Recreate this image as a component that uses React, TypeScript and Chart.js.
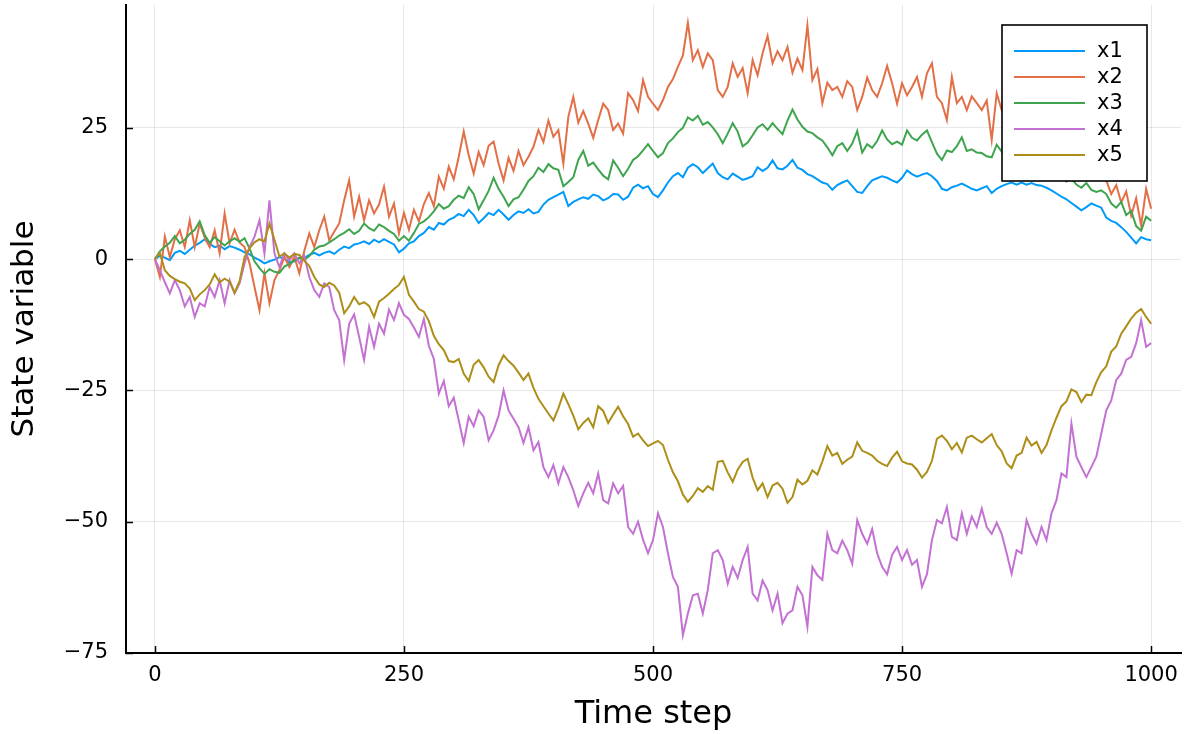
import React, { useEffect, useRef } from "react";
import { Chart, registerables } from "chart.js";

Chart.register(...registerables);

// Time step spacing between stored samples
const STEP = 5;

const SERIES_NAMES = ["x1", "x2", "x3", "x4", "x5"];
const SERIES_COLORS = ["#009AFA", "#E36F47", "#3EA44E", "#C371D2", "#AC8E18"];

const X_TICKS = [0, 250, 500, 750, 1000];
const Y_TICKS = [-75, -50, -25, 0, 25];

const X_TITLE = "Time step";
const Y_TITLE = "State variable";

// Samples every 5 time steps (0, 5, ..., 1000); each row = 50 steps
const X1 = [
  0, 0.6, 0.3, -0.2, 1.2, 1.6, 1.0, 1.8, 2.6, 3.1,
  3.8, 2.9, 2.3, 2.6, 1.9, 2.5, 2.2, 1.8, 1.3, 0.9,
  0.3, -0.2, -0.8, -0.4, -0.1, 0.4, 0.1, -0.6, -0.4, 0.3,
  0.2, 0.8, 1.2, 0.7, 1.2, 1.5, 1.0, 1.8, 2.4, 2.1,
  2.8, 3.0, 3.4, 2.9, 3.7, 3.2, 3.8, 3.3, 2.8, 1.3,
  2.0, 3.0, 3.4, 4.4, 5.0, 6.1, 5.6, 6.9, 6.6, 7.5,
  7.9, 8.6, 8.2, 9.4, 8.4, 6.9, 7.8, 8.8, 8.4, 9.4,
  8.5, 7.5, 8.4, 9.1, 8.8, 9.5, 8.7, 9.0, 10.4, 11.3,
  11.8, 12.3, 12.8, 10.1, 10.9, 11.4, 11.8, 11.5, 12.3, 12.0,
  11.2, 11.6, 12.4, 12.3, 11.3, 11.9, 13.6, 14.2, 13.5, 13.9,
  12.4, 11.8, 13.1, 14.6, 15.8, 16.4, 15.6, 17.4, 18.1, 17.5,
  16.4, 17.3, 18.2, 16.4, 15.6, 15.2, 16.3, 15.7, 15.1, 15.4,
  15.8, 17.5, 16.8, 17.4, 18.8, 17.3, 17.1, 17.8, 18.9, 17.4,
  17.0, 16.2, 15.8, 15.2, 14.6, 14.3, 13.2, 14.1, 14.6, 15.0,
  13.9, 12.8, 12.6, 13.9, 15.0, 15.4, 15.8, 15.5, 15.0, 14.6,
  15.5, 16.9, 16.2, 15.7, 16.1, 16.4, 15.8, 14.9, 13.4, 13.1,
  13.7, 14.0, 14.4, 13.9, 13.4, 13.1, 13.5, 13.9, 12.6, 13.4,
  13.9, 14.3, 14.6, 14.2, 14.6, 14.2, 14.5, 14.1, 14.0, 13.6,
  13.1, 12.5, 11.9, 11.4, 10.7, 10.0, 9.3, 9.9, 10.6, 10.2,
  9.8, 7.9, 7.3, 6.9, 6.1, 5.2, 4.1, 3.0, 4.2, 3.8,
  3.6,
];

const X2 = [
  0, -3.4, 4.3, 0.4, 3.8, 5.5, 2.3, 7.4, 2.3, 6.8,
  4.1, 2.3, 5.5, 1.1, 8.7, 3.0, 5.6, 3.2, 2.3, -0.8,
  -5.3, -9.7, -2.7, -8.4, -4.0, -2.1, 0.4, -1.5, 0.4, -2.7,
  1.6, 4.9, 2.3, 5.5, 8.1, 3.6, 5.2, 6.8, 11.2, 15.0,
  8.1, 11.9, 7.4, 11.2, 8.7, 10.4, 13.8, 8.1, 10.6, 4.9,
  8.8, 5.6, 9.4, 7.2, 10.5, 12.6, 10.1, 15.7, 13.4, 17.6,
  15.2, 19.5, 24.3, 19.8, 16.3, 20.4, 17.9, 21.6, 22.4, 18.2,
  15.0, 19.3, 16.8, 20.6, 17.9, 19.5, 21.4, 24.6, 22.3, 26.4,
  23.3, 24.6, 18.2, 27.1, 30.9, 26.0, 28.2, 25.8, 23.1, 26.5,
  29.6, 28.4, 24.6, 25.8, 23.9, 31.6, 30.3, 28.2, 34.1, 30.9,
  29.6, 28.4, 30.3, 32.8, 34.3, 36.6, 38.8, 45.0, 37.9, 39.8,
  36.6, 39.2, 37.9, 32.2, 30.9, 32.8, 37.3, 34.7, 36.4, 31.6,
  37.9, 35.0, 39.2, 42.5, 37.3, 39.6, 37.9, 40.4, 35.5, 38.2,
  36.0, 44.5, 34.1, 36.2, 29.7, 33.6, 32.2, 32.8, 30.9, 33.9,
  32.8, 28.4, 30.9, 34.6, 32.2, 30.9, 33.5, 36.8, 33.5, 29.6,
  33.5, 31.2, 32.8, 34.7, 30.9, 35.4, 37.3, 30.9, 29.7, 26.5,
  34.7, 29.7, 30.9, 28.4, 31.0, 29.7, 28.4, 30.2, 22.7, 31.6,
  28.4, 30.2, 27.1, 29.5, 26.2, 28.8, 27.0, 29.4, 26.3, 28.1,
  25.4, 27.6, 24.1, 25.9, 22.6, 24.0, 21.3, 22.8, 19.5, 20.6,
  17.8, 15.0, 12.4, 14.1, 10.8, 12.9, 8.3, 11.6, 6.4, 13.4,
  9.6,
];

const X3 = [
  0, 1.5, 2.4, 3.1, 4.4, 3.0, 3.7, 4.8, 5.6, 7.2,
  4.6, 3.1, 4.2, 3.4, 2.6, 3.4, 4.0, 3.3, 4.0, 2.0,
  -0.4, -1.7, -2.8, -1.9, -2.4, -2.6, -1.4, -0.9, -0.3, 0.2,
  -0.1, 0.6, 1.8, 2.4, 2.6, 3.2, 3.8, 4.5, 5.0, 5.7,
  4.8, 5.4, 6.8, 5.9, 5.4, 6.6, 6.1, 5.4, 4.8, 3.5,
  4.4, 3.5, 5.0, 6.7, 7.2, 8.0, 9.1, 10.5, 9.6, 10.1,
  11.3, 12.1, 11.6, 13.7, 12.4, 9.5, 11.2, 13.0, 15.5, 13.4,
  11.9, 10.1, 11.4, 11.8, 13.2, 14.9, 15.8, 17.4, 16.6, 18.1,
  17.3, 17.0, 13.9, 14.7, 15.6, 18.9, 20.6, 17.8, 18.4, 17.1,
  15.9, 15.2, 18.8, 17.4, 15.8, 17.2, 18.9, 19.6, 20.7, 21.9,
  20.6, 19.4, 20.2, 22.1, 23.0, 24.2, 25.0, 27.0, 26.4, 27.3,
  25.6, 26.1, 25.1, 23.8, 22.1, 23.9, 25.9, 24.3, 21.5, 22.2,
  23.6, 25.1, 25.7, 24.6, 25.9, 24.8, 23.8, 26.4, 28.5, 26.6,
  25.2, 24.3, 24.0, 23.2, 22.6, 21.3, 19.8, 21.5, 22.1, 20.6,
  22.0, 24.4, 20.3, 21.9, 21.2, 22.5, 24.5, 22.8, 21.9, 22.4,
  21.8, 24.5, 23.1, 22.6, 23.7, 24.5, 22.3, 20.1, 18.9, 20.7,
  20.4, 21.5, 23.2, 20.6, 20.9, 20.3, 20.2, 19.6, 19.4, 21.8,
  20.5, 19.6, 20.4, 19.3, 18.6, 19.4, 18.2, 17.6, 18.3, 17.1,
  16.4, 15.9, 15.5, 14.8, 15.4, 14.2, 13.6, 14.5, 13.2, 12.8,
  13.1, 12.4, 10.6, 9.8, 10.9, 8.4, 9.2, 6.3, 5.4, 8.1,
  7.3,
];

const X4 = [
  0, -2.1, -4.4, -6.5, -4.0, -5.9, -9.0, -7.2, -11.0, -8.4,
  -9.0, -5.3, -7.2, -4.0, -8.4, -4.0, -6.5, -4.6, -0.8, 2.3,
  4.3, 7.4, 1.1, 11.2, 1.1, -1.5, 1.1, -0.2, 1.1, -0.8,
  0.6, -3.4, -5.9, -7.2, -4.6, -5.3, -9.7, -11.6, -19.2, -12.3,
  -10.5, -14.8, -19.2, -12.9, -16.7, -12.3, -14.2, -9.6, -11.6, -8.4,
  -10.6, -11.4, -13.0, -14.8, -11.4, -16.5, -19.0, -25.6, -23.2, -28.0,
  -26.4, -30.7, -35.0, -30.0, -31.8, -28.8, -30.0, -34.5, -32.6, -29.8,
  -25.0, -28.8, -30.4, -32.0, -35.0, -32.0, -36.4, -34.8, -39.6, -41.5,
  -39.2, -42.7, -39.6, -41.5, -44.0, -47.0, -44.6, -42.6, -44.6, -40.8,
  -45.9, -46.5, -42.7, -44.6, -43.2, -51.0, -52.3, -50.0, -53.4, -56.0,
  -53.5, -48.4, -51.0, -56.0, -60.5, -62.4, -71.6, -67.5, -64.0, -63.7,
  -67.5, -63.0, -56.0, -55.4, -57.3, -61.8, -58.6, -60.7, -57.3, -54.8,
  -63.7, -65.0, -61.2, -63.0, -66.9, -63.7, -69.3, -67.5, -66.9, -62.4,
  -64.0, -70.0, -58.6, -60.2, -61.1, -52.3, -55.4, -56.0, -53.6, -55.4,
  -58.0, -49.7, -52.3, -54.2, -51.4, -56.0, -58.6, -60.0, -56.3, -54.8,
  -57.3, -55.4, -58.2, -57.3, -62.4, -60.0, -53.5, -49.7, -50.3, -47.2,
  -52.9, -53.5, -48.4, -52.3, -49.0, -51.0, -47.5, -51.0, -52.3, -50.2,
  -52.3, -56.0, -59.9, -55.4, -56.0, -49.7, -52.3, -54.2, -51.0, -53.5,
  -48.4, -45.9, -40.8, -41.5, -31.3, -37.6, -39.6, -41.5, -39.6, -37.6,
  -33.2, -28.8, -26.9, -23.0, -21.8, -19.2, -18.6, -16.0, -11.6, -16.7,
  -16.0,
];

const X5 = [
  0, 1.2, -2.1, -3.2, -3.8, -4.3, -4.6, -5.6, -7.8, -6.7,
  -5.9, -4.8, -2.9, -4.4, -3.7, -4.3, -6.4, -4.2, 0.4, 2.1,
  3.2, 3.8, 3.4, 6.8, 3.7, 0.5, 1.1, 0.3, 1.0, 0.8,
  -0.3, -1.3, -3.4, -4.8, -5.3, -4.5, -5.0, -6.4, -10.3, -9.0,
  -7.2, -8.6, -8.2, -8.9, -11.0, -8.1, -7.4, -6.6, -5.7, -4.9,
  -3.4, -6.8, -8.1, -9.5, -10.0, -11.8, -14.6, -16.2, -17.3, -19.4,
  -19.6, -19.0, -21.8, -23.2, -20.1, -19.2, -20.6, -22.4, -23.4, -20.2,
  -18.3, -19.4, -20.3, -21.6, -23.0, -21.8, -24.5, -26.6, -28.0, -29.4,
  -30.7, -28.4, -25.6, -27.6, -29.8, -32.4, -31.2, -30.3, -32.0, -28.0,
  -28.9, -31.2, -29.6, -28.1, -29.9, -31.4, -33.8, -33.2, -34.5, -35.6,
  -35.1, -34.6, -35.4, -38.2, -40.6, -42.3, -44.8, -46.2, -45.1, -43.6,
  -44.3, -43.2, -43.9, -38.6, -38.4, -40.6, -42.4, -40.1, -38.6, -38.0,
  -41.6, -44.0, -42.7, -45.3, -43.1, -42.6, -43.7, -46.4, -45.3, -42.0,
  -42.9, -42.2, -40.2, -41.0, -38.5, -35.6, -37.4, -36.9, -39.0, -38.2,
  -37.6, -34.9, -36.5, -36.9, -37.4, -38.4, -39.0, -39.4, -37.8, -36.7,
  -38.5, -38.9, -39.1, -40.1, -41.6, -40.5, -38.4, -34.2, -33.6, -34.6,
  -36.2, -35.0, -36.8, -34.0, -33.6, -34.3, -34.9, -34.1, -33.3, -35.4,
  -36.6, -38.9, -39.8, -37.4, -36.9, -34.0, -35.5, -34.8, -36.9, -35.4,
  -32.6, -30.2, -28.0, -27.1, -24.8, -25.3, -27.2, -25.8, -25.9, -23.4,
  -21.5, -20.4, -17.6, -16.6, -14.2, -12.8, -11.3, -10.2, -9.5, -11.0,
  -12.3,
];

const SERIES_VALUES = [X1, X2, X3, X4, X5];

const FONT = "'DejaVu Sans', 'Liberation Sans', sans-serif";

const decorPlugin = {
  id: "juliaDecor",
  afterDraw(chart: any) {
    const { ctx, chartArea, scales } = chart;
    ctx.save();
    // inward tick marks
    ctx.strokeStyle = "#000";
    ctx.lineWidth = 1.5;
    X_TICKS.forEach((t) => {
      const px = Math.round(scales.x.getPixelForValue(t)) + 0.5;
      ctx.beginPath();
      ctx.moveTo(px, chartArea.bottom);
      ctx.lineTo(px, chartArea.bottom - 7);
      ctx.stroke();
    });
    Y_TICKS.forEach((t) => {
      const py = Math.round(scales.y.getPixelForValue(t)) + 0.5;
      ctx.beginPath();
      ctx.moveTo(chartArea.left, py);
      ctx.lineTo(chartArea.left + 7, py);
      ctx.stroke();
    });
    // legend box
    const bx = 1002, by = 25, bw = 145, bh = 156;
    ctx.fillStyle = "#fff";
    ctx.fillRect(bx, by, bw, bh);
    ctx.lineWidth = 1.6;
    ctx.strokeStyle = "#000";
    ctx.strokeRect(bx, by, bw, bh);
    ctx.font = `21px ${FONT}`;
    ctx.textBaseline = "middle";
    ctx.textAlign = "left";
    chart.data.datasets.forEach((ds: any, i: number) => {
      const y = by + 26 + i * 26;
      ctx.strokeStyle = ds.borderColor;
      ctx.lineWidth = 2;
      ctx.beginPath();
      ctx.moveTo(bx + 12, y);
      ctx.lineTo(bx + 83, y);
      ctx.stroke();
      ctx.fillStyle = "#000";
      ctx.fillText(ds.label, bx + 95, y + 1);
    });
    ctx.restore();
  },
};

export default function App() {
  const canvasRef = useRef<HTMLCanvasElement | null>(null);

  useEffect(() => {
    const canvas = canvasRef.current;
    if (!canvas) return;
    const datasets = SERIES_VALUES.map((vals, i) => ({
      label: SERIES_NAMES[i],
      data: vals.map((v, j) => ({ x: j * STEP, y: v })),
      borderColor: SERIES_COLORS[i],
      backgroundColor: SERIES_COLORS[i],
      borderWidth: 2,
      pointRadius: 0,
      tension: 0,
      fill: false,
      order: SERIES_NAMES.length - i,
    }));
    const chart = new Chart(canvas, {
      type: "line",
      data: { datasets },
      options: {
        animation: false,
        responsive: false,
        devicePixelRatio: 1,
        layout: { padding: { top: 5, right: 4, left: 0, bottom: 0 } },
        plugins: {
          legend: { display: false },
          tooltip: { enabled: false },
        },
        scales: {
          x: {
            type: "linear",
            min: -29,
            max: 1030,
            afterBuildTicks: (scale: any) => {
              scale.ticks = X_TICKS.map((v) => ({ value: v }));
            },
            afterFit: (scale: any) => {
              scale.height = 81;
              scale.paddingLeft = 0;
              scale.paddingRight = 0;
            },
            grid: { color: "rgba(0,0,0,0.09)", lineWidth: 1, drawTicks: false },
            border: { display: true, color: "#000", width: 2 },
            ticks: {
              padding: 10,
              maxRotation: 0,
              color: "#000",
              font: { family: FONT, size: 21 },
              callback: (v: any) => String(v).replace("-", "\u2212"),
            },
            title: {
              display: true,
              text: X_TITLE,
              color: "#000",
              font: { family: FONT, size: 32 },
              padding: { top: 0, bottom: 0 },
            },
          },
          y: {
            type: "linear",
            min: -75,
            max: 48.4,
            afterBuildTicks: (scale: any) => {
              scale.ticks = Y_TICKS.map((v) => ({ value: v }));
            },
            afterFit: (scale: any) => {
              scale.width = 126;
              scale.paddingTop = 0;
              scale.paddingBottom = 0;
            },
            grid: { color: "rgba(0,0,0,0.09)", lineWidth: 1, drawTicks: false },
            border: { display: true, color: "#000", width: 2 },
            ticks: {
              padding: 18,
              color: "#000",
              font: { family: FONT, size: 21 },
              callback: (v: any) => String(v).replace("-", "\u2212"),
            },
            title: {
              display: true,
              text: Y_TITLE,
              color: "#000",
              font: { family: FONT, size: 31 },
              padding: { top: 6, bottom: 0 },
            },
          },
        },
      },
      plugins: [decorPlugin],
    });
    return () => chart.destroy();
  }, []);

  return (
    <div style={{ position: "fixed", left: 0, top: 0, width: 1185, height: 734, background: "#fff" }}>
      <canvas ref={canvasRef} width={1185} height={734} style={{ display: "block", width: 1185, height: 734 }} />
    </div>
  );
}
